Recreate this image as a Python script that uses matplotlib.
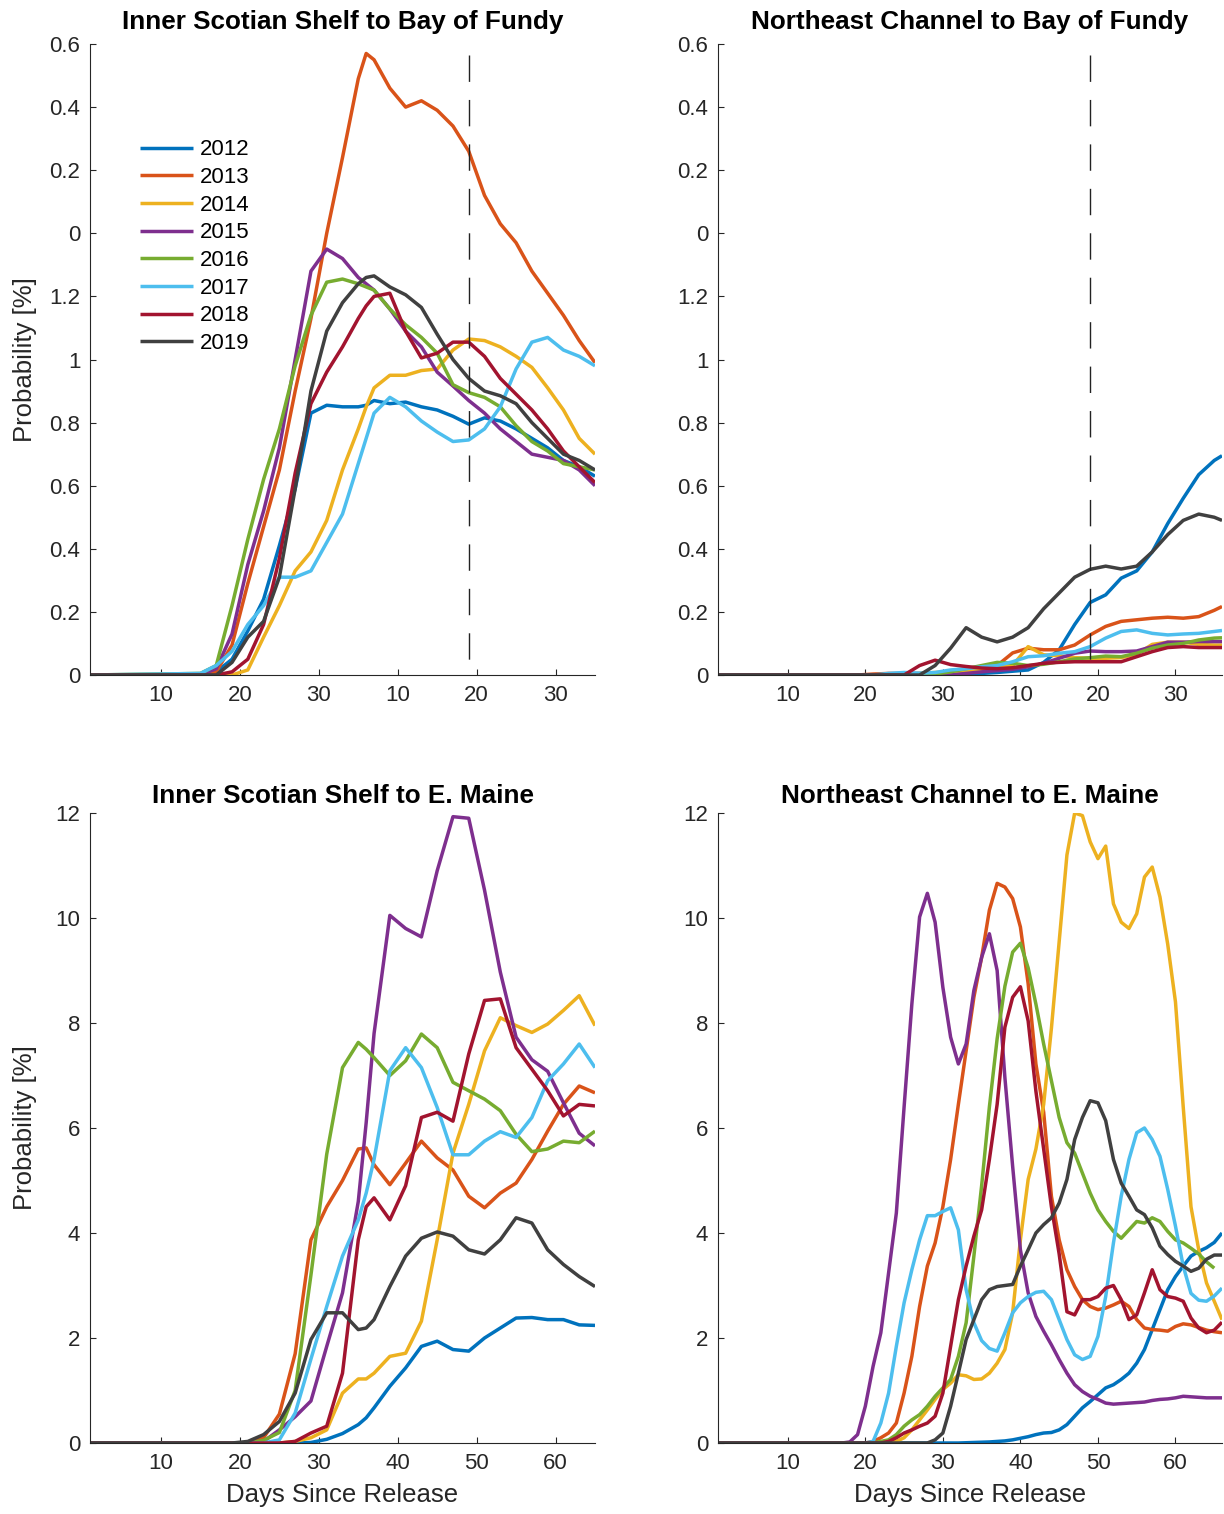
import matplotlib
matplotlib.use("Agg")
import matplotlib.pyplot as plt

nan = float("nan")

plt.rcParams.update({
    "font.family": ["Liberation Sans", "DejaVu Sans"],
    "font.size": 16,
    "axes.linewidth": 0.8,
    "axes.edgecolor": "#262626",
    "xtick.color": "#262626", "ytick.color": "#262626",
    "xtick.labelcolor": "#262626", "ytick.labelcolor": "#262626",
    "xtick.direction": "in", "ytick.direction": "in",
    "xtick.major.size": 4.5, "ytick.major.size": 4.5,
    "xtick.major.width": 0.8, "ytick.major.width": 0.8,
    "xtick.major.pad": 7.5, "ytick.major.pad": 7,
    "xtick.labelsize": 16, "ytick.labelsize": 16,
})

YEARS = ["2012", "2013", "2014", "2015", "2016", "2017", "2018", "2019"]
COLORS = ["#0072BD", "#D95319", "#EDB120", "#7E2F8E",
          "#77AC30", "#4DBEEE", "#A2142F", "#404040"]

# sample days: left column every second day (+ day 36), right column runs to day 66
DAYS_LEFT = [1, 15, 17, 19, 21, 23, 25, 27, 29, 31, 33, 35, 36, 37, 39, 41,
             43, 45, 47, 49, 51, 53, 55, 57, 59, 61, 63, 65]
DAYS_TR = [1, 15, 17, 19, 21, 23, 25, 27, 29, 31, 33, 35, 37, 39, 41,
           43, 45, 47, 49, 51, 53, 55, 57, 59, 61, 63, 65, 66]
DAYS_BR = [1] + list(range(17, 67))

# Inner Scotian Shelf -> Bay of Fundy (in tick units of the odd y axis)
ISS_BOF = [
    [0, 0, 0.01, 0.05, 0.14, 0.24, 0.41, 0.59, 0.83, 0.855, 0.85, 0.85, 0.855, 0.87, 0.86, 0.865, 0.85, 0.84, 0.82, 0.795, 0.815, 0.805, 0.78, 0.75, 0.72, 0.68, 0.66, 0.63],
    [0, 0, 0.01, 0.095, 0.29, 0.47, 0.65, 0.90, 1.13, 1.40, 1.64, 1.89, 1.97, 1.95, 1.86, 1.80, 1.82, 1.79, 1.74, 1.66, 1.52, 1.43, 1.37, 1.28, 1.21, 1.14, 1.06, 0.99],
    [0, 0, 0, 0, 0.016, 0.12, 0.22, 0.33, 0.39, 0.49, 0.65, 0.78, 0.85, 0.91, 0.95, 0.95, 0.965, 0.97, 1.03, 1.065, 1.06, 1.04, 1.01, 0.975, 0.91, 0.84, 0.75, 0.70],
    [0, 0, 0.02, 0.13, 0.35, 0.52, 0.72, 1.0, 1.28, 1.35, 1.32, 1.26, 1.24, 1.22, 1.16, 1.09, 1.04, 0.96, 0.916, 0.87, 0.83, 0.78, 0.74, 0.70, 0.69, 0.68, 0.65, 0.60],
    [0, 0.005, 0.03, 0.22, 0.43, 0.62, 0.78, 0.98, 1.14, 1.245, 1.255, 1.24, 1.23, 1.22, 1.16, 1.11, 1.07, 1.02, 0.92, 0.895, 0.88, 0.85, 0.79, 0.74, 0.71, 0.67, 0.66, 0.65],
    [0, 0.005, 0.03, 0.075, 0.16, 0.22, 0.31, 0.31, 0.33, 0.42, 0.51, 0.67, 0.75, 0.83, 0.88, 0.85, 0.805, 0.77, 0.74, 0.745, 0.78, 0.85, 0.97, 1.055, 1.07, 1.03, 1.01, 0.98],
    [0, 0, 0, 0.01, 0.05, 0.16, 0.37, 0.64, 0.86, 0.96, 1.04, 1.13, 1.17, 1.20, 1.21, 1.09, 1.005, 1.02, 1.055, 1.055, 1.01, 0.94, 0.89, 0.84, 0.78, 0.71, 0.66, 0.61],
    [0, 0, 0, 0.04, 0.12, 0.17, 0.31, 0.59, 0.90, 1.09, 1.18, 1.24, 1.26, 1.265, 1.23, 1.205, 1.165, 1.08, 1.0, 0.94, 0.90, 0.885, 0.86, 0.80, 0.75, 0.70, 0.68, 0.65],
]

# Northeast Channel -> Bay of Fundy
NEC_BOF = [
    [0, 0, 0, 0, 0, 0, 0, 0, 0, 0, 0.003, 0.005, 0.008, 0.012, 0.016, 0.04, 0.08, 0.16, 0.23, 0.254, 0.307, 0.33, 0.39, 0.48, 0.56, 0.635, 0.68, 0.695],
    [0, 0, 0, 0, 0.003, 0.005, 0.005, 0.005, 0.005, 0.008, 0.012, 0.02, 0.03, 0.07, 0.085, 0.08, 0.08, 0.095, 0.127, 0.154, 0.17, 0.175, 0.18, 0.183, 0.18, 0.185, 0.205, 0.217],
    [0, 0, 0, 0, 0, 0, 0, 0.005, 0.008, 0.01, 0.012, 0.016, 0.025, 0.03, 0.09, 0.064, 0.061, 0.055, 0.053, 0.053, 0.055, 0.066, 0.097, 0.104, 0.104, 0.097, 0.095, 0.095],
    [0, 0, 0, 0, 0, 0, 0, 0, 0, 0, 0.005, 0.01, 0.014, 0.018, 0.026, 0.037, 0.053, 0.069, 0.076, 0.074, 0.074, 0.076, 0.09, 0.104, 0.104, 0.106, 0.106, 0.106],
    [0, 0, 0, 0, 0, 0, 0, 0, 0.003, 0.01, 0.02, 0.03, 0.04, 0.037, 0.03, 0.034, 0.042, 0.051, 0.055, 0.06, 0.058, 0.069, 0.085, 0.095, 0.10, 0.111, 0.117, 0.118],
    [0, 0, 0, 0, 0, 0.005, 0.008, 0.006, 0.008, 0.016, 0.02, 0.026, 0.03, 0.042, 0.058, 0.061, 0.069, 0.074, 0.09, 0.117, 0.138, 0.143, 0.132, 0.127, 0.13, 0.132, 0.138, 0.141],
    [0, 0, 0, 0, 0, 0, 0, 0.03, 0.047, 0.033, 0.027, 0.022, 0.02, 0.023, 0.03, 0.037, 0.04, 0.042, 0.042, 0.042, 0.042, 0.058, 0.074, 0.087, 0.09, 0.087, 0.087, 0.087],
    [0, 0, 0, 0, 0, 0, 0, 0, 0.03, 0.085, 0.15, 0.12, 0.105, 0.12, 0.15, 0.21, 0.26, 0.31, 0.335, 0.345, 0.336, 0.345, 0.39, 0.445, 0.49, 0.51, 0.50, 0.49],
]

# Inner Scotian Shelf -> E. Maine
ISS_EM = [
    [0, 0, 0, 0, 0, 0, 0, 0, 0.01, 0.07, 0.18, 0.35, 0.48, 0.67, 1.08, 1.43, 1.84, 1.94, 1.78, 1.75, 2.0, 2.19, 2.38, 2.39, 2.35, 2.35, 2.25, 2.24],
    [0, 0, 0, 0, 0, 0.1, 0.55, 1.7, 3.87, 4.5, 5.0, 5.6, 5.62, 5.3, 4.92, 5.33, 5.75, 5.43, 5.2, 4.7, 4.48, 4.76, 4.95, 5.4, 5.94, 6.45, 6.8, 6.67],
    [0, 0, 0, 0, 0, 0, 0, 0.03, 0.1, 0.25, 0.95, 1.22, 1.22, 1.33, 1.65, 1.71, 2.32, 3.87, 5.52, 6.45, 7.47, 8.1, 7.95, 7.82, 7.98, 8.24, 8.52, 7.95],
    [0, 0, 0, 0, 0, 0.03, 0.25, 0.5, 0.8, 1.84, 2.86, 4.6, 6.1, 7.8, 10.05, 9.8, 9.64, 10.9, 11.93, 11.9, 10.53, 8.97, 7.73, 7.3, 7.08, 6.48, 5.9, 5.66],
    [0, 0, 0, 0, 0, 0.05, 0.2, 1.0, 3.2, 5.5, 7.15, 7.63, 7.5, 7.34, 7.0, 7.28, 7.79, 7.53, 6.87, 6.71, 6.55, 6.33, 5.88, 5.55, 5.6, 5.75, 5.72, 5.94],
    [0, 0, 0, 0, 0, 0, 0.06, 0.57, 1.6, 2.6, 3.56, 4.25, 4.76, 5.4, 7.09, 7.53, 7.15, 6.39, 5.49, 5.49, 5.75, 5.93, 5.82, 6.2, 6.9, 7.22, 7.6, 7.15],
    [0, 0, 0, 0, 0, 0, 0, 0.03, 0.19, 0.32, 1.33, 3.87, 4.5, 4.67, 4.25, 4.9, 6.2, 6.3, 6.13, 7.41, 8.43, 8.46, 7.53, 7.12, 6.71, 6.23, 6.45, 6.42],
    [0, 0, 0, 0, 0.03, 0.16, 0.41, 0.95, 1.97, 2.48, 2.48, 2.16, 2.19, 2.35, 2.98, 3.56, 3.9, 4.02, 3.94, 3.68, 3.6, 3.87, 4.29, 4.19, 3.68, 3.4, 3.17, 2.98],
]

# Northeast Channel -> E. Maine (daily, 17..66)
NEC_EM = [
    [0] + [0.0] * 16 + [0.005, 0.01, 0.015, 0.02, 0.03, 0.04, 0.06, 0.09, 0.12, 0.16, 0.19, 0.2, 0.25, 0.35, 0.51, 0.67, 0.79, 0.92, 1.05, 1.11, 1.21, 1.33, 1.52, 1.78, 2.16, 2.54, 2.92, 3.17, 3.37, 3.56, 3.65, 3.72, 3.82, 4.0],
    [0, 0, 0, 0, 0, 0.03, 0.1, 0.19, 0.38, 0.95, 1.65, 2.6, 3.37, 3.81, 4.5, 5.4, 6.45, 7.47, 8.49, 9.25, 10.15, 10.66, 10.59, 10.37, 9.83, 8.75, 7.22, 6.3, 4.7, 3.87, 3.3, 2.98, 2.73, 2.6, 2.54, 2.57, 2.63, 2.7, 2.6, 2.35, 2.19, 2.16, 2.15, 2.13, 2.22, 2.27, 2.25, 2.2, 2.15, 2.12, 2.1],
    [0, 0, 0, 0, 0, 0, 0, 0, 0.03, 0.1, 0.25, 0.44, 0.63, 0.83, 1.02, 1.14, 1.3, 1.28, 1.21, 1.22, 1.33, 1.52, 1.78, 2.48, 3.87, 5.02, 5.6, 6.45, 7.9, 9.55, 11.2, 12.0, 11.95, 11.45, 11.13, 11.37, 10.27, 9.92, 9.8, 10.08, 10.78, 10.97, 10.4, 9.5, 8.4, 6.4, 4.5, 3.68, 3.05, 2.7, 2.35],
    [0, 0, 0.02, 0.16, 0.7, 1.46, 2.1, 3.24, 4.38, 6.4, 8.36, 10.02, 10.47, 9.92, 8.68, 7.73, 7.22, 7.6, 8.62, 9.25, 9.7, 9.0, 6.96, 5.27, 3.68, 2.86, 2.41, 2.13, 1.87, 1.59, 1.33, 1.11, 0.98, 0.89, 0.83, 0.76, 0.74, 0.75, 0.76, 0.77, 0.78, 0.81, 0.83, 0.84, 0.86, 0.89, 0.88, 0.87, 0.86, 0.86, 0.86],
    [0, 0, 0, 0, 0, 0, 0.03, 0.06, 0.16, 0.32, 0.44, 0.54, 0.7, 0.89, 1.05, 1.21, 1.65, 2.29, 3.56, 4.9, 6.4, 7.7, 8.7, 9.35, 9.52, 9.05, 8.36, 7.6, 6.9, 6.2, 5.72, 5.52, 5.14, 4.76, 4.44, 4.22, 4.03, 3.9, 4.06, 4.22, 4.19, 4.29, 4.22, 4.03, 3.87, 3.81, 3.71, 3.6, 3.45, 3.33, nan],
    [0, 0, 0, 0, 0, 0.03, 0.38, 0.95, 1.84, 2.67, 3.3, 3.87, 4.33, 4.33, 4.41, 4.48, 4.06, 2.92, 2.29, 1.95, 1.8, 1.75, 2.1, 2.48, 2.67, 2.79, 2.87, 2.89, 2.73, 2.35, 1.97, 1.68, 1.59, 1.65, 2.03, 2.79, 3.81, 4.7, 5.4, 5.91, 6.0, 5.78, 5.46, 4.83, 4.13, 3.37, 2.85, 2.72, 2.7, 2.8, 2.95],
    [0, 0, 0, 0, 0, 0, 0, 0.03, 0.1, 0.19, 0.25, 0.32, 0.38, 0.51, 0.95, 1.84, 2.73, 3.37, 3.94, 4.44, 5.4, 6.45, 7.92, 8.49, 8.69, 8.04, 6.7, 5.6, 4.5, 3.6, 2.5, 2.44, 2.73, 2.73, 2.79, 2.95, 3.0, 2.73, 2.35, 2.44, 2.86, 3.3, 2.92, 2.79, 2.76, 2.7, 2.38, 2.19, 2.1, 2.15, 2.3],
    [0] + [0.0] * 12 + [0.06, 0.19, 0.7, 1.33, 1.97, 2.35, 2.73, 2.92, 2.98, 3.0, 3.02, 3.37, 3.68, 4.0, 4.16, 4.29, 4.57, 5.02, 5.78, 6.2, 6.52, 6.48, 6.14, 5.4, 4.95, 4.7, 4.44, 4.35, 4.1, 3.75, 3.59, 3.46, 3.37, 3.27, 3.33, 3.5, 3.58, 3.58],
]

TOP_YTICKS = [0, 0.2, 0.4, 0.6, 0.8, 1.0, 1.2, 1.4, 1.6, 1.8, 2.0]
TOP_YTICKLABELS = ["0", "0.2", "0.4", "0.6", "0.8", "1", "1.2", "0", "0.2", "0.4", "0.6"]
TOP_XTICKLABELS = ["10", "20", "30", "10", "20", "30"]
BOT_YTICKS = [0, 2, 4, 6, 8, 10, 12]
XTICKS = [10, 20, 30, 40, 50, 60]
MARK_DAY = 49
MARK_TOP = 1.965

W, H = 1224, 1514
fig = plt.figure(figsize=(W / 100, H / 100), dpi=100)
left_x = [90 / W, 718 / W]
widths = [505 / W, 504 / W]
x_end = [65, 66]
top_b, top_h = 1 - 675 / H, 631 / H
bot_b, bot_h = 1 - 1443 / H, 630 / H

panels = [
    ("Inner Scotian Shelf to Bay of Fundy", ISS_BOF, DAYS_LEFT, 0, top_b, top_h),
    ("Northeast Channel to Bay of Fundy", NEC_BOF, DAYS_TR, 1, top_b, top_h),
    ("Inner Scotian Shelf to E. Maine", ISS_EM, DAYS_LEFT, 0, bot_b, bot_h),
    ("Northeast Channel to E. Maine", NEC_EM, DAYS_BR, 1, bot_b, bot_h),
]

for k, (title, series, days, col, b, h) in enumerate(panels):
    ax = fig.add_axes([left_x[col], b, widths[col], h])
    for yr, c, vals in zip(YEARS, COLORS, series):
        ax.plot(days, vals, color=c, lw=2.5, label=yr,
                solid_joinstyle="round", solid_capstyle="butt")
    ax.set_xlim(1, x_end[col])
    ax.set_xticks(XTICKS)
    for s in ("top", "right"):
        ax.spines[s].set_visible(False)
    if k < 2:
        ax.set_title(title, fontsize=18.8, fontweight="bold", pad=10.6)
        ax.set_ylim(0, 2.0)
        ax.set_yticks(TOP_YTICKS, TOP_YTICKLABELS)
        ax.set_xticklabels(TOP_XTICKLABELS)
        ax.plot([MARK_DAY, MARK_DAY], [MARK_TOP, 0], color="#222222", lw=1.0,
                dashes=(19, 13))
    else:
        ax.set_title(title, fontsize=18.8, fontweight="bold", pad=7)
        ax.set_ylim(0, 12)
        ax.set_yticks(BOT_YTICKS)
        ax.set_xlabel("Days Since Release", fontsize=18.5, color="#262626")
        ax.xaxis.set_label_coords(0.5, -0.063)
    if col == 0:
        ax.set_ylabel("Probability [%]", fontsize=18.5, color="#262626")
        ax.yaxis.set_label_coords(-0.105, 0.5)
    if k == 0:
        ax.legend(loc="upper left", bbox_to_anchor=(0.099, 0.849), frameon=False,
                  fontsize=16, handlelength=2.4, handletextpad=0.3,
                  labelspacing=0.3, borderpad=0, borderaxespad=0)

fig.savefig("out.png", dpi=100)
